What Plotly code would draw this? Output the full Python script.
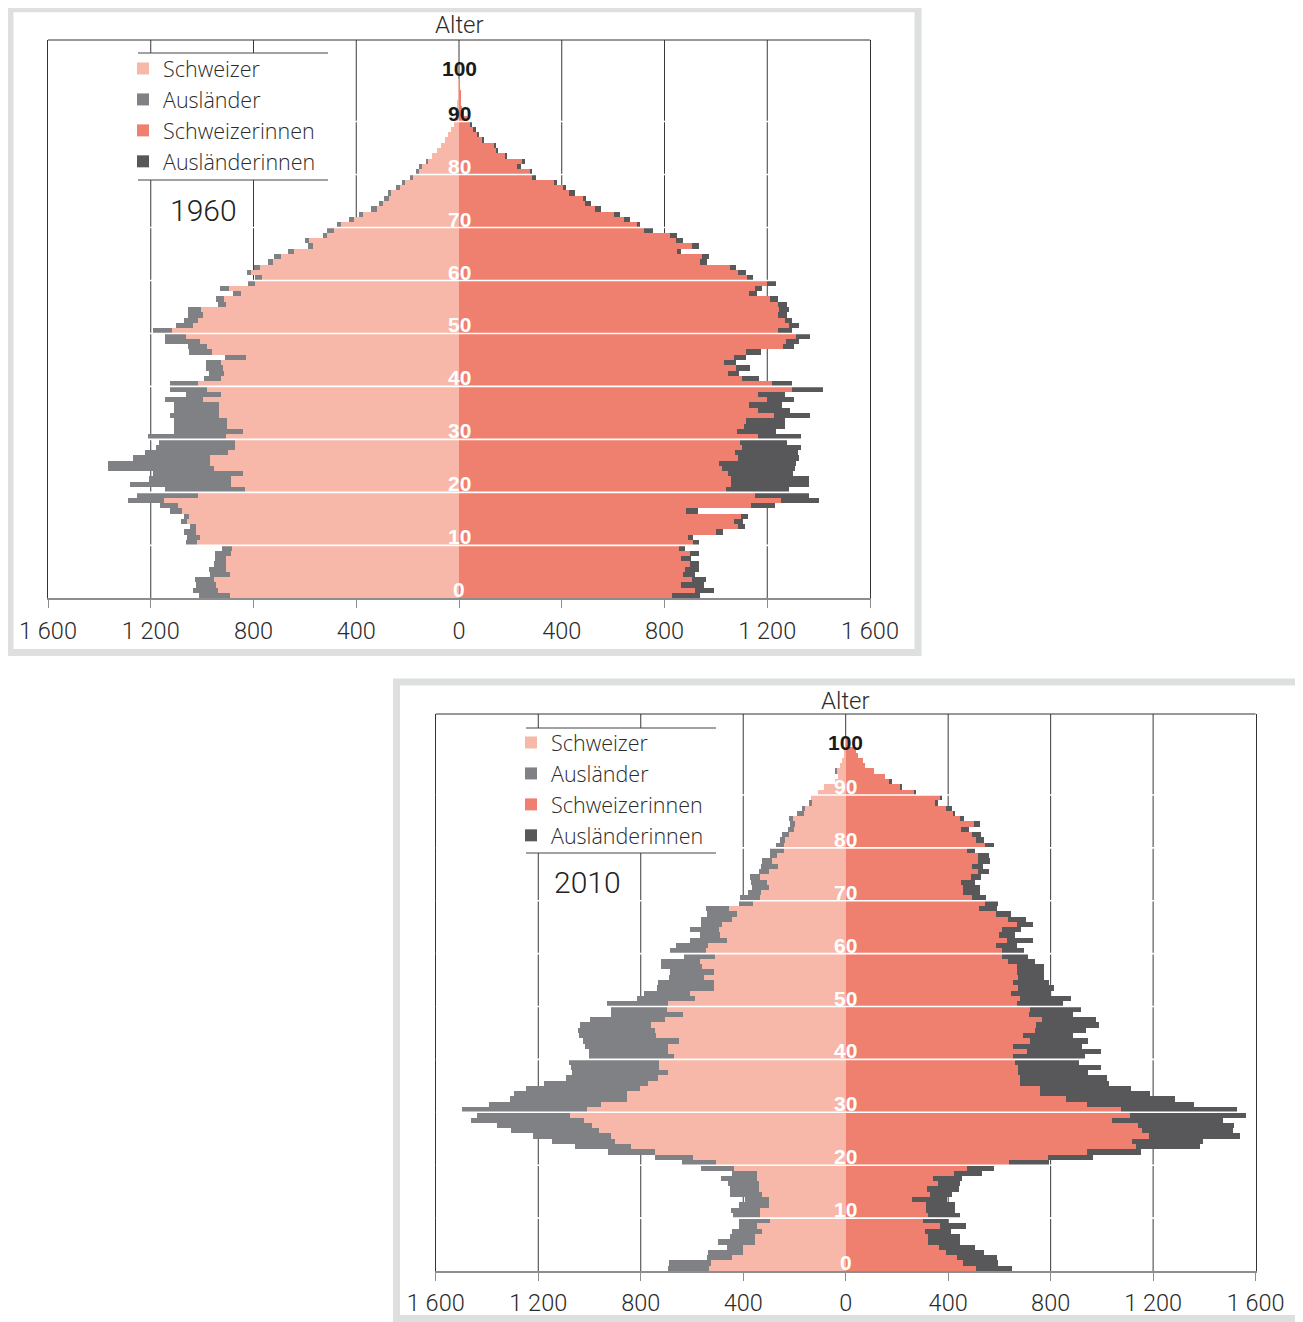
import plotly.graph_objects as go

# ---------------- data (persons, by single year of age 0..100) ----------------
ages = list(range(101))

ch_m_1960 = [892, 940, 946, 953, 892, 907, 907, 907, 887, 884,
             1021, 1010, 1025, 1023, 1058, 1050, 1078, 1092, 1147, 1017,
             834, 888, 888, 842, 955, 968, 968, 901, 871, 871,
             907, 842, 905, 905, 933, 933, 933, 995, 927, 981,
             1017, 927, 913, 920, 927, 829, 962, 981, 1007, 1063,
             1118, 1037, 1017, 998, 1004, 907, 914, 849, 894, 793,
             768, 810, 776, 726, 693, 644, 568, 583, 512, 486,
             460, 408, 373, 320, 294, 272, 266, 229, 210, 179,
             156, 143, 120, 104, 86, 70, 55, 42, 30, 20,
             12, 8, 6, 4, 3, 2, 1, 1, 0, 0,
             0]
au_m_1960 = [119, 94, 78, 74, 78, 65, 48, 44, 62, 40,
             43, 47, 46, 24, 24, 19, 46, 72, 143, 237,
             310, 392, 317, 350, 410, 397, 300, 320, 308, 295,
             305, 269, 206, 203, 191, 178, 178, 149, 134, 143,
             107, 64, 59, 65, 58, 81, 88, 73, 136, 80,
             72, 65, 52, 56, 50, 33, 32, 32, 37, 30,
             26, 17, 24, 19, 26, 23, 19, 17, 19, 26,
             16, 20, 16, 23, 17, 20, 10, 17, 10, 11,
             12, 11, 10, 0, 0, 0, 0, 0, 0, 0,
             0, 0, 0, 0, 0, 0, 0, 0, 0, 0,
             0]
ch_f_1960 = [829, 920, 866, 907, 872, 879, 898, 864, 898, 857,
             910, 890, 1000, 1086, 1070, 1098, 884, 1138, 1255, 1151,
             1041, 1060, 1060, 1047, 1024, 1013, 1086, 1076, 1102, 1095,
             1164, 1082, 1109, 1117, 1227, 1164, 1130, 1199, 1164, 1296,
             1218, 1102, 1047, 1080, 1033, 1069, 1117, 1261, 1274, 1310,
             1240, 1283, 1270, 1241, 1247, 1241, 1212, 1130, 1151, 1199,
             1122, 1086, 1054, 937, 946, 849, 907, 846, 820, 719,
             691, 642, 603, 531, 492, 483, 428, 406, 373, 285,
             275, 227, 246, 181, 145, 136, 91, 69, 56, 45,
             30, 18, 12, 8, 6, 4, 3, 2, 2, 1,
             1]
au_f_1960 = [111, 73, 87, 55, 45, 54, 35, 39, 35, 24,
             23, 21, 28, 26, 34, 27, 47, 93, 147, 210,
             242, 301, 301, 255, 285, 298, 238, 243, 230, 182,
             168, 153, 161, 153, 140, 126, 127, 106, 106, 121,
             80, 66, 44, 54, 45, 48, 58, 44, 48, 57,
             56, 41, 26, 36, 36, 36, 29, 30, 28, 36,
             22, 32, 26, 29, 29, 15, 26, 25, 29, 35,
             15, 22, 22, 22, 20, 13, 22, 9, 7, 13,
             10, 15, 11, 7, 4, 9, 5, 9, 9, 6,
             0, 0, 0, 0, 0, 0, 0, 0, 0, 0,
             0]

ch_m_2010 = [533, 525, 445, 400, 400, 356, 356, 328, 347, 295,
             334, 334, 299, 299, 328, 338, 341, 347, 347, 438,
             507, 598, 744, 839, 900, 917, 965, 991, 1024, 1076,
             1011, 956, 854, 854, 802, 773, 735, 694, 728, 728,
             672, 696, 696, 653, 741, 747, 761, 708, 637, 698,
             694, 590, 607, 516, 516, 555, 516, 562, 568, 512,
             546, 540, 464, 490, 497, 484, 445, 425, 455, 363,
             334, 330, 302, 308, 334, 302, 265, 289, 269, 243,
             241, 237, 224, 204, 200, 208, 165, 161, 133, 135,
             107, 87, 44, 31, 35, 22, 16, 9, 5, 3,
             2]
au_m_2010 = [163, 167, 99, 140, 64, 144, 95, 117, 72, 121,
             107, 113, 120, 94, 126, 113, 119, 141, 98, 126,
             133, 146, 186, 217, 247, 304, 341, 371, 439, 363,
             487, 438, 458, 443, 445, 407, 356, 375, 344, 354,
             329, 305, 324, 373, 299, 300, 276, 292, 279, 218,
             239, 225, 183, 221, 219, 137, 172, 160, 154, 121,
             142, 122, 143, 78, 110, 80, 119, 117, 91, 56,
             78, 52, 65, 61, 39, 39, 65, 39, 26, 52,
             32, 19, 26, 22, 17, 13, 24, 11, 10, 0,
             0, 0, 0, 0, 9, 0, 0, 0, 0, 0,
             0]
ch_f_2010 = [507, 458, 432, 390, 364, 321, 321, 308, 367, 302,
             321, 312, 312, 259, 328, 315, 360, 341, 423, 471,
             637, 789, 943, 1134, 1115, 1182, 1156, 1141, 1040, 1108,
             1073, 943, 858, 757, 757, 679, 679, 672, 672, 659,
             653, 705, 653, 718, 692, 737, 741, 767, 715, 718,
             666, 680, 646, 672, 653, 672, 666, 666, 633, 611,
             611, 584, 627, 597, 611, 666, 633, 584, 520, 542,
             494, 458, 458, 451, 488, 516, 494, 516, 516, 473,
             542, 507, 494, 451, 499, 445, 419, 390, 349, 367,
             265, 211, 169, 152, 109, 74, 68, 48, 39, 16,
             8]
au_f_2010 = [142, 134, 156, 148, 139, 126, 126, 104, 101, 97,
             126, 113, 113, 134, 87, 127, 85, 113, 107, 108,
             156, 176, 208, 247, 279, 358, 355, 373, 430, 453,
             454, 416, 426, 429, 354, 348, 342, 274, 322, 251,
             280, 289, 267, 228, 195, 199, 247, 211, 172, 198,
             182, 197, 150, 140, 140, 101, 107, 107, 105, 101,
             84, 84, 104, 62, 71, 65, 69, 62, 68, 52,
             51, 67, 65, 52, 41, 42, 42, 48, 42, 30,
             37, 32, 35, 30, 24, 15, 6, 26, 9, 10,
             8, 9, 9, 0, 0, 0, 0, 0, 0, 0,
             0]

series_names = ["Schweizer", "Ausländer", "Schweizerinnen", "Ausländerinnen"]
tick_vals = [-1600, -1200, -800, -400, 0, 400, 800, 1200, 1600]
tick_text = ["1 600", "1 200", "800", "400", "0", "400", "800", "1 200", "1 600"]
age_marks = [0, 10, 20, 30, 40, 50, 60, 70, 80, 90, 100]
years = ["1960", "2010"]

# ---------------- styling ----------------
OX, OY = 8, 8                    # page body margin of the html page
W, H = 1303 - OX, 1322 - OY
colors = ["#f7b8a9", "#808184", "#ef7f6e", "#58585a"]
TXT = "#2b2b2b"
FONT = "Roboto"
LEG_FONT = "Open Sans"
BOLD = "Liberation Sans"


def px(x):
    return (x - OX) / W


def py(y):
    return 1 - (y - OY) / H


panels = [
    dict(year="1960", data=[ch_m_1960, au_m_1960, ch_f_1960, au_f_1960],
         xs="x", ys="y", xa="xaxis", ya="yaxis", legend="legend",
         plot=(48, 870, 40, 598.3), ytop=105.4,
         frame=(10, 918, 8.8, 652.5), alter_y=25,
         leg=(138, 328, 53, 180), leg_pos=(123, 48),
         year_pos=(-996, 73.3), dark_from=90),
    dict(year="2010", data=[ch_m_2010, au_m_2010, ch_f_2010, au_f_2010],
         xs="x2", ys="y2", xa="xaxis2", ya="yaxis2", legend="legend2",
         plot=(435.8, 1255.6, 714, 1271), ytop=105.3,
         frame=(396.5, 1299.5, 682, 1318.5), alter_y=701,
         leg=(526, 716, 728, 853), leg_pos=(511, 722),
         year_pos=(-1009, 73.4), dark_from=100),
]

fig = go.Figure()
shapes = []
annotations = []
layout = dict(
    width=W, height=H,
    margin=dict(l=0, r=0, t=0, b=0, autoexpand=False),
    paper_bgcolor="white", plot_bgcolor="white",
    barmode="relative", bargap=0,
    showlegend=True,
    font=dict(family=FONT, color=TXT),
)

for p in panels:
    for i, (name, vals) in enumerate(zip(series_names, p["data"])):
        sign = -1 if i < 2 else 1
        fig.add_trace(go.Bar(
            y=ages, x=[sign * v for v in vals], customdata=vals,
            orientation="h", width=1, offset=0, name=name,
            marker=dict(color=colors[i], line=dict(width=0)),
            xaxis=p["xs"], yaxis=p["ys"], legend=p["legend"],
            hovertemplate=name + " %{y}: %{customdata}<extra>" + p["year"] + "</extra>",
        ))
    x0, x1, y0, y1 = p["plot"]
    xdom = p["xs"] + " domain"
    ydom = p["ys"] + " domain"
    layout[p["xa"]] = dict(
        domain=[px(x0), px(x1)], range=[-1600, 1600], anchor=p["ys"],
        tickvals=tick_vals, ticktext=tick_text, automargin=False,
        showgrid=False, zeroline=False,
        showline=True, linecolor="#8d8d8d", linewidth=2,
        ticks="outside", ticklen=8, tickcolor="#8d8d8d", tickwidth=1,
        ticklabelstandoff=2,
        tickfont=dict(size=23.5, color=TXT, family=FONT, weight=300),
        fixedrange=True,
    )
    layout[p["ya"]] = dict(
        domain=[py(y1), py(y0)], range=[0, p["ytop"]], anchor=p["xs"],
        showgrid=False, zeroline=False, showticklabels=False, ticks="",
        showline=True, linecolor="#333333", linewidth=1, mirror=True,
        automargin=False, fixedrange=True,
    )
    # outer panel frame
    fx0, fx1, fy0, fy1 = p["frame"]
    shapes.append(dict(type="rect", xref="paper", yref="paper",
                       x0=px(fx0), x1=px(fx1), y0=py(fy1), y1=py(fy0),
                       line=dict(color="#dedfe0", width=7), layer="below"))
    # vertical gridlines at the ticks (below the bars)
    for v in tick_vals[1:-1]:
        shapes.append(dict(type="line", xref=p["xs"], yref=ydom,
                           x0=v, x1=v, y0=0, y1=1, layer="below",
                           line=dict(color="#3a3a3a", width=1)))
    # white mask behind the legend (hides the gridlines there)
    lx0, lx1, ly0, ly1 = p["leg"]
    shapes.append(dict(type="rect", xref=xdom, yref=ydom,
                       x0=(lx0 - x0) / (x1 - x0), x1=(lx1 + 2 - x0) / (x1 - x0),
                       y0=(y1 - ly1) / (y1 - y0), y1=(y1 - ly0) / (y1 - y0),
                       fillcolor="white", line=dict(width=0), layer="below"))
    # top border of plot area
    shapes.append(dict(type="line", xref=xdom, yref=ydom,
                       x0=0, x1=1, y0=1, y1=1, line=dict(color="#333333", width=1)))
    # white age lines
    for a in age_marks[1:-1]:
        shapes.append(dict(type="line", xref=xdom, yref=p["ys"],
                           x0=0, x1=1, y0=a, y1=a, layer="above",
                           line=dict(color="white", width=1.6)))
    # legend rules
    for yy in (ly0, ly1):
        shapes.append(dict(type="line", xref="paper", yref="paper",
                           x0=px(lx0), x1=px(lx1), y0=py(yy), y1=py(yy),
                           line=dict(color="#444444", width=1)))
    layout[p["legend"]] = dict(
        x=px(p["leg_pos"][0]), y=py(p["leg_pos"][1]), xref="container", yref="container",
        xanchor="left", yanchor="top",
        bgcolor="rgba(0,0,0,0)", borderwidth=0, traceorder="normal",
        font=dict(size=21.5, color=TXT, family=LEG_FONT, weight=300),
        itemwidth=30, tracegroupgap=0,
    )
    # "Alter"
    annotations.append(dict(text="Alter", xref=p["xs"], yref="paper", x=0,
                            y=py(p["alter_y"]), showarrow=False,
                            xanchor="center", yanchor="middle",
                            font=dict(size=24, color=TXT, family=FONT, weight=300)))
    # year
    annotations.append(dict(text=p["year"], xref=p["xs"], yref=p["ys"],
                            x=p["year_pos"][0], y=p["year_pos"][1], showarrow=False,
                            xanchor="center", yanchor="middle",
                            font=dict(size=30, color="#222222", family=FONT, weight=300)))
    # age labels
    for a in age_marks:
        col = "#1a1a1a" if a >= p["dark_from"] else "white"
        annotations.append(dict(text=str(a), xref=p["xs"], yref=p["ys"], x=0,
                                y=(a + 1.6) if a < 100 else a, showarrow=False,
                                xanchor="center", yanchor="middle",
                                font=dict(size=21, color=col, family=BOLD, weight="bold")))

layout["shapes"] = shapes
layout["annotations"] = annotations
fig.update_layout(**layout)
fig.write_html("out.html")
